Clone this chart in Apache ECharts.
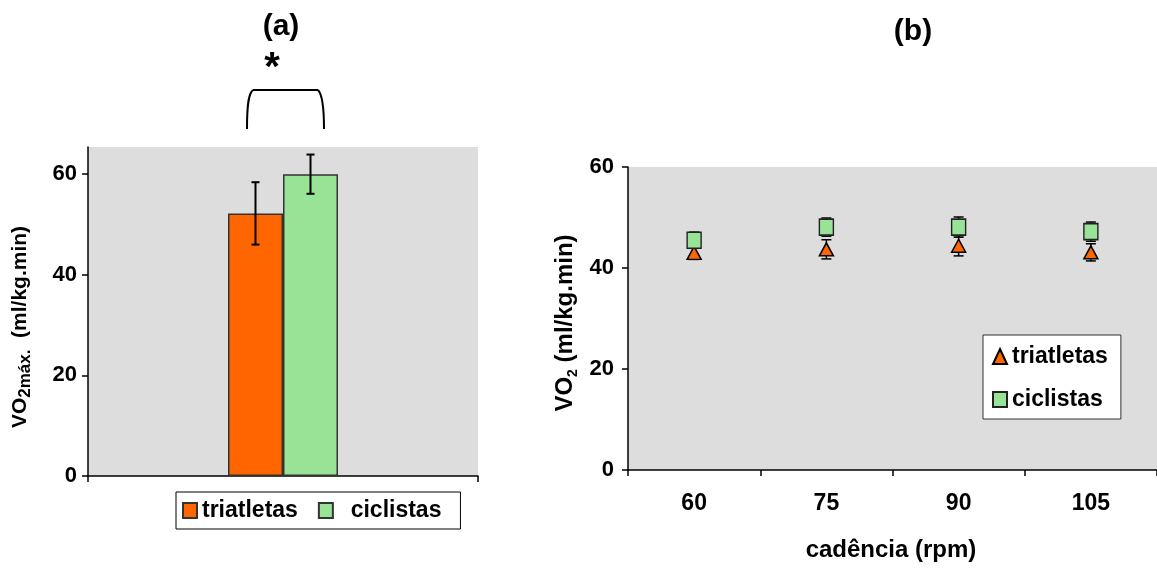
<!DOCTYPE html>
<html>
<head>
<meta charset="utf-8">
<script src="https://cdn.jsdelivr.net/npm/echarts@6/dist/echarts.min.js"></script>
<style>
html,body{margin:0;padding:0;background:#fff;}
#chart{width:1157px;height:572px;}
</style>
</head>
<body>
<div id="chart"></div>
<script>
// ---- data ----
const catsA = [''];
const triA = [52.2];
const triAErr = [6.2];
const cicA = [60.0];
const cicAErr = [3.9];

const catsB = ['60', '75', '90', '105'];
const triB = [43.0, 43.7, 44.4, 43.1];
const triBErr = [1.3, 1.9, 2.0, 1.7];
const cicB = [45.5, 48.1, 48.1, 47.2];
const cicBErr = [1.6, 1.8, 2.0, 1.9];

const ticksA = [0, 20, 40, 60];

// ---- styles ----
const FONT = 'Liberation Sans, Arial, Helvetica, sans-serif';
const ORANGE = '#FF6600';
const GREEN = '#99E397';
const BG = '#DDDDDD';

function errData(vals, errs) {
  return vals.map((v, i) => [i, v - errs[i], v + errs[i]]);
}
function errRender(offset, capHalf, lw) {
  return function (params, api) {
    const i = api.value(0);
    const x = api.coord([i, api.value(1)])[0] + offset;
    const y1 = api.coord([i, api.value(1)])[1];
    const y2 = api.coord([i, api.value(2)])[1];
    const st = { stroke: '#000', lineWidth: lw };
    return {
      type: 'group',
      children: [
        { type: 'line', shape: { x1: x, y1: y1, x2: x, y2: y2 }, style: st },
        { type: 'line', shape: { x1: x - capHalf, y1: y1, x2: x + capHalf, y2: y1 }, style: st },
        { type: 'line', shape: { x1: x - capHalf, y1: y2, x2: x + capHalf, y2: y2 }, style: st }
      ]
    };
  };
}

const axisLine = { show: true, lineStyle: { color: '#000', width: 1.5 } };
const axisTick = { show: true, length: 6, lineStyle: { color: '#000', width: 1.5 } };
const labelStyle = { color: '#000', fontSize: 22, fontWeight: 'bold', fontFamily: FONT };
const legendText = { color: '#000', fontSize: 23, fontWeight: 'bold', fontFamily: FONT };
const bracketStyle = { fill: 'none', stroke: '#000', lineWidth: 2 };

const chart = echarts.init(document.getElementById('chart'), null, { renderer: 'canvas' });

const option = {
  animation: false,
  backgroundColor: '#fff',
  grid: [
    { left: 88, top: 147, width: 390, height: 329, show: true, backgroundColor: BG, borderWidth: 0, containLabel: false },
    { left: 628, top: 167, width: 533, height: 303, show: true, backgroundColor: BG, borderWidth: 0, containLabel: false }
  ],
  xAxis: [
    { type: 'category', gridIndex: 0, data: catsA, axisLine: axisLine, axisTick: axisTick,
      axisLabel: { show: false }, splitLine: { show: false } },
    { type: 'category', gridIndex: 1, data: catsB, axisLine: axisLine, axisTick: axisTick,
      axisLabel: Object.assign({ margin: 22 }, labelStyle, { fontSize: 23 }), splitLine: { show: false } }
  ],
  yAxis: [
    { type: 'value', gridIndex: 0, min: 0, max: 65.4,
      axisLine: axisLine,
      axisTick: Object.assign({ customValues: ticksA }, axisTick),
      axisLabel: Object.assign({ margin: 11, customValues: ticksA }, labelStyle),
      splitLine: { show: false } },
    { type: 'value', gridIndex: 1, min: 0, max: 60, interval: 20,
      axisLine: axisLine, axisTick: axisTick,
      axisLabel: Object.assign({ margin: 14 }, labelStyle),
      splitLine: { show: false } }
  ],
  legend: [
    { data: [{ name: 'triatletas', icon: 'rect' }, { name: 'ciclistas', icon: 'rect' }],
      left: 176, top: 492, orient: 'horizontal',
      backgroundColor: '#fff', borderColor: '#000', borderWidth: 1,
      padding: [7, 19, 7, 6], itemGap: 20, itemWidth: 14, itemHeight: 15,
      selectedMode: false,
      formatter: n => n === 'ciclistas' ? '  ciclistas' : n,
      textStyle: legendText },
    { data: ['triatletas_b', 'ciclistas_b'], left: 983, top: 335, orient: 'vertical',
      backgroundColor: '#fff', borderColor: '#333', borderWidth: 1,
      padding: [10, 13, 8, 9], itemGap: 20, itemWidth: 14, itemHeight: 15,
      selectedMode: false,
      formatter: n => n.replace('_b', ''),
      textStyle: legendText }
  ],
  series: [
    { name: 'triatletas', type: 'bar', xAxisIndex: 0, yAxisIndex: 0, data: triA,
      barWidth: 55, barGap: '0%',
      itemStyle: { color: ORANGE, borderColor: '#333', borderWidth: 1.5 } },
    { name: 'ciclistas', type: 'bar', xAxisIndex: 0, yAxisIndex: 0, data: cicA,
      barWidth: 55, barGap: '0%',
      itemStyle: { color: GREEN, borderColor: '#333', borderWidth: 1.5 } },
    { type: 'custom', xAxisIndex: 0, yAxisIndex: 0, data: errData(triA, triAErr),
      renderItem: errRender(-27.5, 4, 2), z: 5, silent: true },
    { type: 'custom', xAxisIndex: 0, yAxisIndex: 0, data: errData(cicA, cicAErr),
      renderItem: errRender(27.5, 4, 2), z: 5, silent: true },

    { type: 'custom', xAxisIndex: 1, yAxisIndex: 1, data: errData(triB, triBErr),
      renderItem: errRender(0, 5, 1.5), z: 1, silent: true },
    { type: 'custom', xAxisIndex: 1, yAxisIndex: 1, data: errData(cicB, cicBErr),
      renderItem: errRender(0, 5, 1.5), z: 1, silent: true },
    { name: 'triatletas_b', type: 'scatter', xAxisIndex: 1, yAxisIndex: 1, data: triB,
      symbol: 'triangle', symbolSize: [14, 13], z: 3,
      itemStyle: { color: ORANGE, borderColor: '#000', borderWidth: 1.5, opacity: 1 } },
    { name: 'ciclistas_b', type: 'scatter', xAxisIndex: 1, yAxisIndex: 1, data: cicB,
      symbol: 'rect', symbolSize: [14, 16], z: 4,
      itemStyle: { color: GREEN, borderColor: '#222', borderWidth: 1.5, opacity: 1 } }
  ],
  graphic: [
    { type: 'text', x: 281, y: 27, style: { text: '(a)', align: 'center', verticalAlign: 'middle',
      fill: '#000', font: 'bold 30px ' + FONT } },
    { type: 'text', x: 913, y: 32, style: { text: '(b)', align: 'center', verticalAlign: 'middle',
      fill: '#000', font: 'bold 30px ' + FONT } },
    { type: 'text', x: 272, y: 69, style: { text: '*', align: 'center', verticalAlign: 'middle',
      fill: '#000', font: 'bold 40px ' + FONT } },
    { type: 'bezierCurve', shape: { x1: 247, y1: 129, cpx1: 247, cpy1: 102, cpx2: 249, cpy2: 93, x2: 253, y2: 90 },
      style: bracketStyle },
    { type: 'line', shape: { x1: 253, y1: 90, x2: 318, y2: 90 }, style: bracketStyle },
    { type: 'bezierCurve', shape: { x1: 318, y1: 90, cpx1: 321, cpy1: 93, cpx2: 324, cpy2: 102, x2: 324, y2: 129 },
      style: bracketStyle },
    { type: 'text', x: 20, y: 327, rotation: Math.PI / 2,
      style: { text: '{m|VO}{s|2máx.}{m|  (ml/kg.min)}', align: 'center', verticalAlign: 'middle',
        rich: {
          m: { fontSize: 21, fontWeight: 'bold', fontFamily: FONT, fill: '#000', lineHeight: 28 },
          s: { fontSize: 17, fontWeight: 'bold', fontFamily: FONT, fill: '#000', lineHeight: 17, verticalAlign: 'bottom' }
        } } },
    { type: 'text', x: 565, y: 323, rotation: Math.PI / 2,
      style: { text: '{m|VO}{s|2}{m| (ml/kg.min)}', align: 'center', verticalAlign: 'middle',
        rich: {
          m: { fontSize: 24, fontWeight: 'bold', fontFamily: FONT, fill: '#000', lineHeight: 30 },
          s: { fontSize: 14, fontWeight: 'bold', fontFamily: FONT, fill: '#000', lineHeight: 14, verticalAlign: 'bottom' }
        } } },
    { type: 'text', x: 891, y: 550, style: { text: 'cadência (rpm)', align: 'center', verticalAlign: 'middle',
      fill: '#000', font: 'bold 24px ' + FONT } }
  ]
};
chart.setOption(option);
</script>
</body>
</html>
